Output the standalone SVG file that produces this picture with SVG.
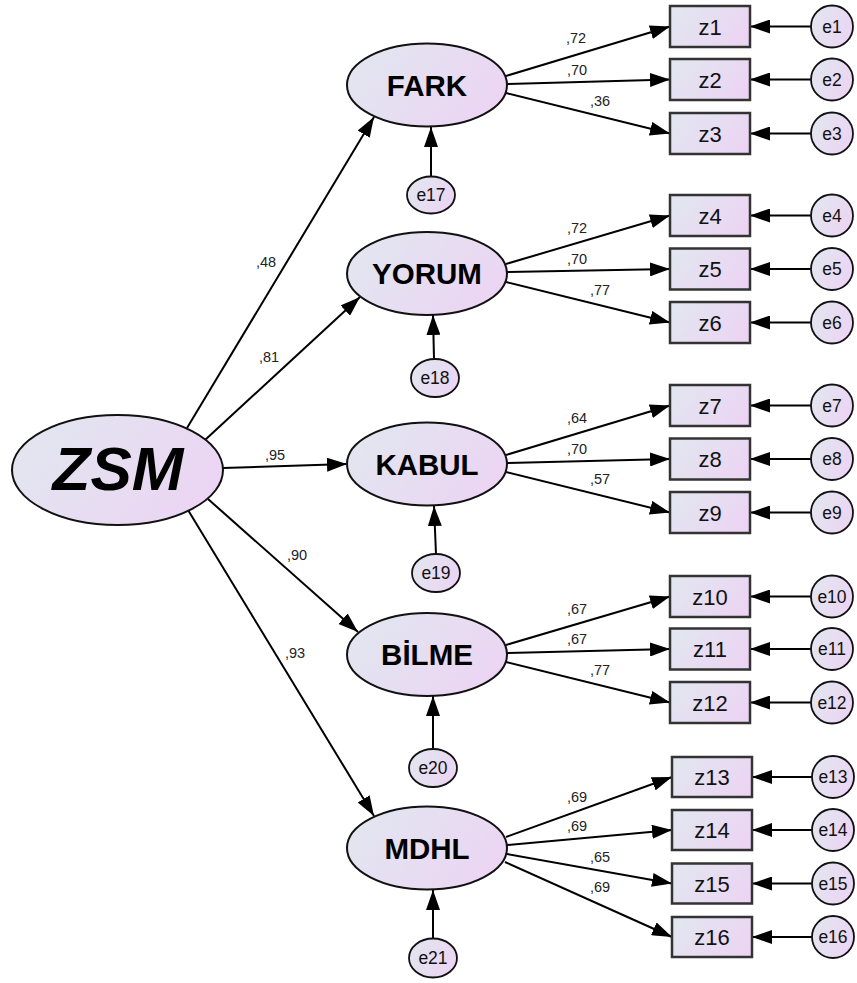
<svg xmlns="http://www.w3.org/2000/svg" width="857" height="983" viewBox="0 0 857 983">
<defs>
<linearGradient id="g" x1="0" y1="0.3" x2="1" y2="0.7">
<stop offset="0" stop-color="#e2e6f0"/>
<stop offset="1" stop-color="#ecd4f3"/>
</linearGradient>
<marker id="ah" markerUnits="userSpaceOnUse" markerWidth="20" markerHeight="14" viewBox="0 0 20 14" refX="20" refY="7" orient="auto">
<path d="M0,0 L20,7 L0,14 z" fill="#000"/>
</marker>
<style>
.c{stroke:#000;stroke-width:2;fill:none;marker-end:url(#ah)}
.lv{fill:url(#g);stroke:#111;stroke-width:2}
.ob{fill:url(#g);stroke:#333;stroke-width:2.5}
.er{fill:url(#g);stroke:#111;stroke-width:1.8}
.lt{font-family:"Liberation Sans",Arial,sans-serif;font-weight:bold;font-size:29.5px;fill:#000;text-anchor:middle}
.zt{font-family:"Liberation Sans",Arial,sans-serif;font-size:22px;fill:#111;text-anchor:middle}
.et{font-family:"Liberation Sans",Arial,sans-serif;font-size:17.5px;fill:#111;text-anchor:middle}
.w{font-family:"Liberation Sans",Arial,sans-serif;font-size:14.5px;fill:#222}
</style>
</defs>
<rect width="857" height="983" fill="#fff"/>
<g id="connectors">
<line class="c" x1="187" y1="428" x2="374" y2="117"/>
<line class="c" x1="205" y1="440" x2="360" y2="297"/>
<line class="c" x1="223" y1="468" x2="347" y2="464"/>
<line class="c" x1="208" y1="499" x2="358" y2="632"/>
<line class="c" x1="188" y1="510" x2="374" y2="816"/>
<text class="w" x="256" y="267">,48</text>
<text class="w" x="259" y="362">,81</text>
<text class="w" x="265" y="460">,95</text>
<text class="w" x="287" y="560">,90</text>
<text class="w" x="285" y="658">,93</text>
<line class="c" x1="506" y1="76" x2="670" y2="26.5"/>
<line class="c" x1="507" y1="84" x2="670" y2="79.5"/>
<line class="c" x1="506" y1="93" x2="670" y2="133.5"/>
<text class="w" x="566" y="43">,72</text>
<text class="w" x="567" y="75">,70</text>
<text class="w" x="590" y="106">,36</text>
<line class="c" x1="506" y1="264" x2="670" y2="215.5"/>
<line class="c" x1="507" y1="272" x2="670" y2="269"/>
<line class="c" x1="506" y1="282" x2="670" y2="322.5"/>
<text class="w" x="567" y="233">,72</text>
<text class="w" x="567" y="264">,70</text>
<text class="w" x="590" y="295">,77</text>
<line class="c" x1="506" y1="455" x2="670" y2="405.5"/>
<line class="c" x1="507" y1="463" x2="670" y2="459"/>
<line class="c" x1="506" y1="472" x2="670" y2="512.5"/>
<text class="w" x="567" y="423">,64</text>
<text class="w" x="567" y="454">,70</text>
<text class="w" x="590" y="484">,57</text>
<line class="c" x1="506" y1="645" x2="670" y2="596.5"/>
<line class="c" x1="507" y1="653" x2="670" y2="649"/>
<line class="c" x1="506" y1="662" x2="670" y2="702.5"/>
<text class="w" x="567" y="614">,67</text>
<text class="w" x="567" y="644">,67</text>
<text class="w" x="590" y="675">,77</text>
<line class="c" x1="506" y1="837" x2="672" y2="777"/>
<line class="c" x1="507" y1="845" x2="672" y2="830"/>
<line class="c" x1="507" y1="854" x2="672" y2="883.5"/>
<line class="c" x1="505" y1="862" x2="672" y2="937"/>
<text class="w" x="567" y="802">,69</text>
<text class="w" x="567" y="831">,69</text>
<text class="w" x="590" y="862">,65</text>
<text class="w" x="590" y="892">,69</text>
<line class="c" x1="431" y1="176" x2="431" y2="127"/>
<line class="c" x1="434" y1="359" x2="433" y2="315"/>
<line class="c" x1="436" y1="554" x2="434" y2="506"/>
<line class="c" x1="433" y1="749" x2="433" y2="696"/>
<line class="c" x1="433" y1="939" x2="433" y2="890"/>
<line class="c" x1="811" y1="26.5" x2="750" y2="26.5"/>
<line class="c" x1="811" y1="79.5" x2="750" y2="79.5"/>
<line class="c" x1="811" y1="133.5" x2="750" y2="133.5"/>
<line class="c" x1="811" y1="215.5" x2="750" y2="215.5"/>
<line class="c" x1="811" y1="269" x2="750" y2="269"/>
<line class="c" x1="811" y1="322.5" x2="750" y2="322.5"/>
<line class="c" x1="811" y1="405.5" x2="750" y2="405.5"/>
<line class="c" x1="811" y1="459" x2="750" y2="459"/>
<line class="c" x1="811" y1="512.5" x2="750" y2="512.5"/>
<line class="c" x1="811" y1="596.5" x2="750" y2="596.5"/>
<line class="c" x1="811" y1="649" x2="750" y2="649"/>
<line class="c" x1="811" y1="702.5" x2="750" y2="702.5"/>
<line class="c" x1="812" y1="777" x2="752" y2="777"/>
<line class="c" x1="812" y1="830" x2="752" y2="830"/>
<line class="c" x1="812" y1="883.5" x2="752" y2="883.5"/>
<line class="c" x1="812" y1="937" x2="752" y2="937"/>
</g>
<g id="ZSM"><ellipse class="lv" cx="117.5" cy="470" rx="105.5" ry="55"/><text x="118" y="490" font-family="Liberation Sans, Arial, sans-serif" font-weight="bold" font-style="italic" font-size="62" fill="#000" text-anchor="middle">ZSM</text></g>
<g id="FARK"><ellipse class="lv" cx="427" cy="85" rx="80" ry="41.5"/><text class="lt" x="427" y="95.5">FARK</text></g>
<g id="YORUM"><ellipse class="lv" cx="427" cy="273.5" rx="80" ry="41.5"/><text class="lt" x="427" y="284">YORUM</text></g>
<g id="KABUL"><ellipse class="lv" cx="427" cy="464" rx="80" ry="41.5"/><text class="lt" x="427" y="474.5">KABUL</text></g>
<g id="BILME"><ellipse class="lv" cx="427" cy="654.5" rx="80" ry="41.5"/><text class="lt" x="427" y="665">BİLME</text></g>
<g id="MDHL"><ellipse class="lv" cx="427" cy="848" rx="80" ry="41.5"/><text class="lt" x="427" y="858.5">MDHL</text></g>
<g id="e17"><ellipse class="er" cx="431" cy="195" rx="24" ry="18.5"/><text class="et" x="431" y="201">e17</text></g>
<g id="e18"><ellipse class="er" cx="435" cy="378" rx="24" ry="19"/><text class="et" x="435" y="384">e18</text></g>
<g id="e19"><ellipse class="er" cx="436" cy="573" rx="24" ry="19"/><text class="et" x="436" y="579">e19</text></g>
<g id="e20"><ellipse class="er" cx="433" cy="768" rx="24" ry="19"/><text class="et" x="433" y="774">e20</text></g>
<g id="e21"><ellipse class="er" cx="433" cy="958" rx="24" ry="19.5"/><text class="et" x="433" y="964">e21</text></g>
<g id="z1"><rect class="ob" x="670" y="6" width="80" height="41"/><text class="zt" x="710" y="34.5">z1</text></g>
<g id="z2"><rect class="ob" x="670" y="59" width="80" height="41"/><text class="zt" x="710" y="87.5">z2</text></g>
<g id="z3"><rect class="ob" x="670" y="113" width="80" height="41"/><text class="zt" x="710" y="141.5">z3</text></g>
<g id="z4"><rect class="ob" x="670" y="195" width="80" height="41"/><text class="zt" x="710" y="223.5">z4</text></g>
<g id="z5"><rect class="ob" x="670" y="248.5" width="80" height="41"/><text class="zt" x="710" y="277">z5</text></g>
<g id="z6"><rect class="ob" x="670" y="302" width="80" height="41"/><text class="zt" x="710" y="330.5">z6</text></g>
<g id="z7"><rect class="ob" x="670" y="385" width="80" height="41"/><text class="zt" x="710" y="413.5">z7</text></g>
<g id="z8"><rect class="ob" x="670" y="438.5" width="80" height="41"/><text class="zt" x="710" y="467">z8</text></g>
<g id="z9"><rect class="ob" x="670" y="492" width="80" height="41"/><text class="zt" x="710" y="520.5">z9</text></g>
<g id="z10"><rect class="ob" x="670" y="576" width="80" height="41"/><text class="zt" x="710" y="604.5">z10</text></g>
<g id="z11"><rect class="ob" x="670" y="628.5" width="80" height="41"/><text class="zt" x="710" y="657">z11</text></g>
<g id="z12"><rect class="ob" x="670" y="682" width="80" height="41"/><text class="zt" x="710" y="710.5">z12</text></g>
<g id="z13"><rect class="ob" x="672" y="757" width="80" height="40"/><text class="zt" x="712" y="785">z13</text></g>
<g id="z14"><rect class="ob" x="672" y="810" width="80" height="40"/><text class="zt" x="712" y="838">z14</text></g>
<g id="z15"><rect class="ob" x="672" y="863.5" width="80" height="40"/><text class="zt" x="712" y="891.5">z15</text></g>
<g id="z16"><rect class="ob" x="672" y="917" width="80" height="40"/><text class="zt" x="712" y="945">z16</text></g>
<g id="e1"><circle class="er" cx="832" cy="26.5" r="21"/><text class="et" x="832" y="32.5">e1</text></g>
<g id="e2"><circle class="er" cx="832" cy="79.5" r="21"/><text class="et" x="832" y="85.5">e2</text></g>
<g id="e3"><circle class="er" cx="832" cy="133.5" r="21"/><text class="et" x="832" y="139.5">e3</text></g>
<g id="e4"><circle class="er" cx="832" cy="215.5" r="21"/><text class="et" x="832" y="221.5">e4</text></g>
<g id="e5"><circle class="er" cx="832" cy="269" r="21"/><text class="et" x="832" y="275">e5</text></g>
<g id="e6"><circle class="er" cx="832" cy="322.5" r="21"/><text class="et" x="832" y="328.5">e6</text></g>
<g id="e7"><circle class="er" cx="832" cy="405.5" r="21"/><text class="et" x="832" y="411.5">e7</text></g>
<g id="e8"><circle class="er" cx="832" cy="459" r="21"/><text class="et" x="832" y="465">e8</text></g>
<g id="e9"><circle class="er" cx="832" cy="512.5" r="21"/><text class="et" x="832" y="518.5">e9</text></g>
<g id="e10"><circle class="er" cx="832" cy="596.5" r="21"/><text class="et" x="832" y="602.5">e10</text></g>
<g id="e11"><circle class="er" cx="832" cy="649" r="21"/><text class="et" x="832" y="655">e11</text></g>
<g id="e12"><circle class="er" cx="832" cy="702.5" r="21"/><text class="et" x="832" y="708.5">e12</text></g>
<g id="e13"><circle class="er" cx="833" cy="777" r="21"/><text class="et" x="833" y="783">e13</text></g>
<g id="e14"><circle class="er" cx="833" cy="830" r="21"/><text class="et" x="833" y="836">e14</text></g>
<g id="e15"><circle class="er" cx="833" cy="883.5" r="21"/><text class="et" x="833" y="889.5">e15</text></g>
<g id="e16"><circle class="er" cx="833" cy="937" r="21"/><text class="et" x="833" y="943">e16</text></g>
</svg>
